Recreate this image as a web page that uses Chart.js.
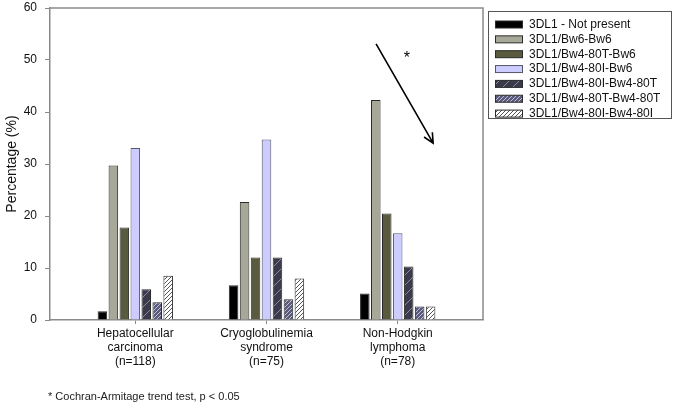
<!DOCTYPE html>
<html>
<head>
<meta charset="utf-8">
<script src="https://cdn.jsdelivr.net/npm/chart.js@4/dist/chart.umd.min.js"></script>
<style>
  html, body { margin: 0; padding: 0; background: #fff; }
</style>
</head>
<body>
<canvas id="grafico" width="675" height="408"></canvas>
<script>
// Datos (porcentaje por grupo de pacientes)
const grupos = [
  ['Hepatocellular', 'carcinoma', '(n=118)'],
  ['Cryoglobulinemia', 'syndrome', '(n=75)'],
  ['Non-Hodgkin', 'lymphoma', '(n=78)']
];
const etiquetas = [
  '3DL1 - Not present',
  '3DL1/Bw6-Bw6',
  '3DL1/Bw4-80T-Bw6',
  '3DL1/Bw4-80I-Bw6',
  '3DL1/Bw4-80I-Bw4-80T',
  '3DL1/Bw4-80T-Bw4-80T',
  '3DL1/Bw4-80I-Bw4-80I'
];
const noPresente = [1.7, 6.7, 5.1];
const bw6Bw6 = [29.7, 22.7, 42.3];
const bw480tBw6 = [17.8, 12.0, 20.5];
const bw480iBw6 = [33.1, 34.7, 16.7];
const bw480iBw480t = [5.9, 12.0, 10.3];
const bw480tBw480t = [3.4, 4.0, 2.6];
const bw480iBw480i = [8.5, 8.0, 2.6];
const valoresY = [0, 10, 20, 30, 40, 50, 60];

// Flecha de tendencia (coordenadas en unidades de los ejes)
const flechaDesde = [1.835, 53.1];
const flechaHasta = [2.27, 34.0];
const asterisco = [2.07, 50.3];
const notaPie = '* Cochran-Armitage trend test, p < 0.05';

const COLOR_EJE = '#8a8a8a';
const COLOR_BORDE = '#2b2b2b';
const FUENTE = 'Arial, "Liberation Sans", sans-serif';

function rayado(fondo, linea, paso, grosor) {
  const c = document.createElement('canvas');
  c.width = paso; c.height = paso;
  const g = c.getContext('2d');
  g.fillStyle = fondo;
  g.fillRect(0, 0, paso, paso);
  g.strokeStyle = linea;
  g.lineWidth = grosor;
  g.beginPath();
  g.moveTo(-1, paso + 1); g.lineTo(paso + 1, -1);
  g.moveTo(-1, 1); g.lineTo(1, -1);
  g.moveTo(paso - 1, paso + 1); g.lineTo(paso + 1, paso - 1);
  g.stroke();
  return g.createPattern(c, 'repeat');
}

const ctx = document.getElementById('grafico').getContext('2d');
const rellenos = [
  '#000000',
  '#a8a898',
  '#5a5a3e',
  '#ccccff',
  rayado('#3a3a4c', '#8a8a98', 10, 1),
  rayado('#5a5a7c', '#c0c0d4', 4, 1),
  rayado('#ffffff', '#555555', 4, 1)
];
const series = [noPresente, bw6Bw6, bw480tBw6, bw480iBw6, bw480iBw480t, bw480tBw480t, bw480iBw480i];

const datasets = series.map((vals, i) => ({
  label: etiquetas[i],
  data: vals.map((v, k) => ({ x: k, y: v })),
  backgroundColor: rellenos[i],
  borderColor: i === 3 ? '#55556a' : COLOR_BORDE,
  borderWidth: 1,
  categoryPercentage: 0.585,
  barPercentage: 0.87
}));

const marcoYNotas = {
  id: 'marcoYNotas',
  afterDraw(chart) {
    const { ctx, chartArea: a, scales: { x, y } } = chart;
    ctx.save();
    // marco superior y derecho
    ctx.strokeStyle = COLOR_EJE;
    ctx.lineWidth = 1.5;
    ctx.beginPath();
    ctx.moveTo(a.left, a.top);
    ctx.lineTo(a.right, a.top);
    ctx.lineTo(a.right, a.bottom);
    ctx.stroke();

    // flecha
    const x1 = x.getPixelForValue(flechaDesde[0]), y1 = y.getPixelForValue(flechaDesde[1]);
    const x2 = x.getPixelForValue(flechaHasta[0]), y2 = y.getPixelForValue(flechaHasta[1]);
    const ang = Math.atan2(y2 - y1, x2 - x1);
    ctx.strokeStyle = '#000';
    ctx.lineWidth = 1.6;
    ctx.beginPath();
    ctx.moveTo(x1, y1); ctx.lineTo(x2, y2);
    ctx.moveTo(x2 - 11 * Math.cos(ang - 0.45), y2 - 11 * Math.sin(ang - 0.45));
    ctx.lineTo(x2, y2);
    ctx.lineTo(x2 - 11 * Math.cos(ang + 0.45), y2 - 11 * Math.sin(ang + 0.45));
    ctx.stroke();
    ctx.fillStyle = '#000';
    ctx.font = '16px ' + FUENTE;
    ctx.textAlign = 'center';
    ctx.textBaseline = 'middle';
    ctx.fillText('*', x.getPixelForValue(asterisco[0]), y.getPixelForValue(asterisco[1]));

    // nota al pie
    ctx.font = '11px ' + FUENTE;
    ctx.textAlign = 'left';
    ctx.fillStyle = '#222';
    ctx.fillText(notaPie, 48, 397);

    // leyenda
    const lx = 488, ly = 11, lw = 183, lh = 107;
    ctx.strokeStyle = '#555';
    ctx.lineWidth = 1;
    ctx.strokeRect(lx + 0.5, ly + 0.5, lw, lh);
    ctx.font = '12px ' + FUENTE;
    chart.data.datasets.forEach((ds, i) => {
      const cy = ly + 13.5 + i * 14.85;
      ctx.fillStyle = ds.backgroundColor;
      ctx.fillRect(495, cy - 3.5, 28, 7);
      ctx.strokeStyle = ds.borderColor;
      ctx.strokeRect(495.5, cy - 3.5, 27, 7);
      ctx.fillStyle = '#111';
      ctx.fillText(ds.label, 529, cy);
    });
    ctx.restore();
  }
};

new Chart(ctx, {
  type: 'bar',
  data: { datasets },
  options: {
    responsive: false,
    animation: false,
    layout: { padding: { top: 8, right: 192, bottom: 0, left: 0 } },
    plugins: {
      legend: { display: false },
      tooltip: { enabled: false }
    },
    scales: {
      x: {
        type: 'linear',
        min: -0.65,
        max: 2.65,
        offset: false,
        afterBuildTicks: (s) => { s.ticks = grupos.map((_, k) => ({ value: k })); },
        afterFit: (s) => { s.height = 88; s.paddingLeft = 0; s.paddingRight = 0; },
        grid: { offset: false, drawOnChartArea: false, tickLength: 4, color: COLOR_EJE },
        border: { color: COLOR_EJE, width: 1.5 },
        ticks: {
          autoSkip: false,
          maxRotation: 0,
          padding: 2,
          color: '#111',
          font: { family: FUENTE, size: 12 },
          callback: (v) => grupos[v]
        }
      },
      y: {
        min: 0,
        max: 60,
        afterBuildTicks: (s) => { s.ticks = valoresY.map(v => ({ value: v })); },
        afterFit: (s) => { s.width = 50; s.paddingTop = 0; s.paddingBottom = 0; },
        grid: { drawOnChartArea: false, tickLength: 5, color: COLOR_EJE },
        border: { color: COLOR_EJE, width: 1.5 },
        ticks: {
          padding: 8,
          color: '#111',
          font: { family: FUENTE, size: 12 }
        },
        title: {
          display: true,
          text: 'Percentage (%)',
          color: '#111',
          font: { family: FUENTE, size: 14 },
          padding: { top: 4, bottom: 0 }
        }
      }
    }
  },
  plugins: [marcoYNotas]
});
</script>
</body>
</html>
